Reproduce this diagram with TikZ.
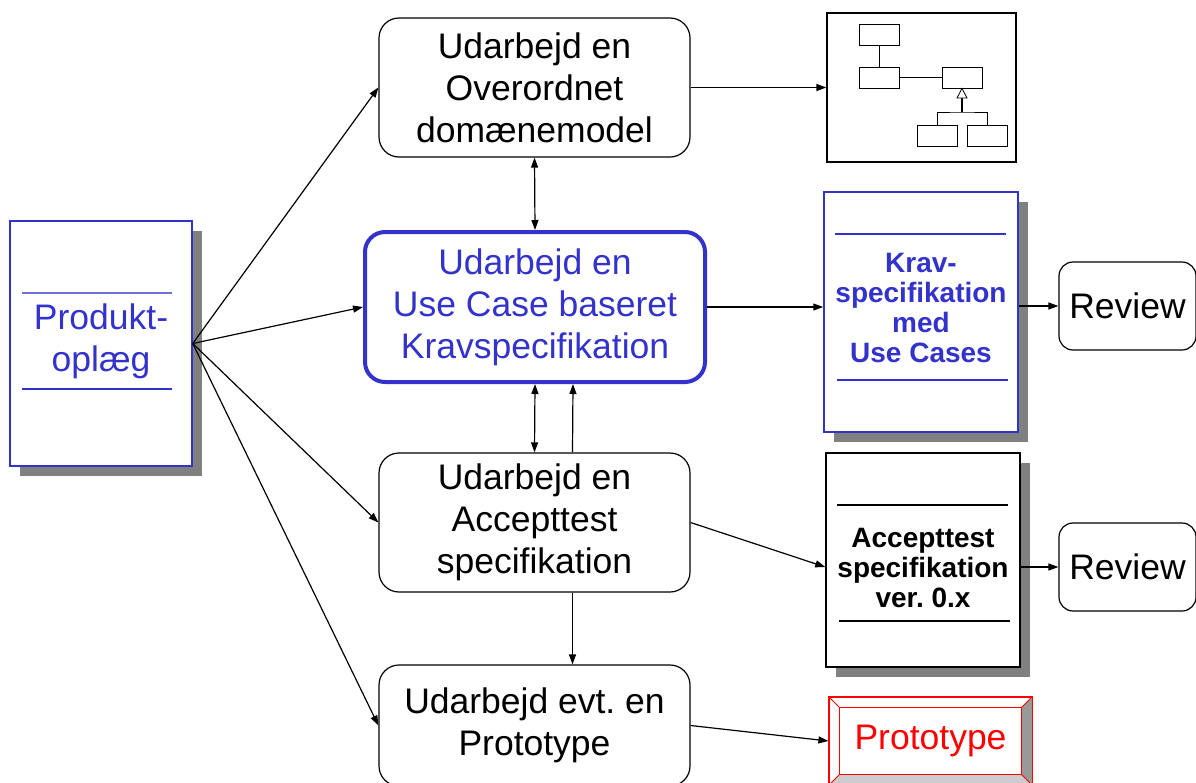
\documentclass[tikz,border=0pt]{standalone}
\usepackage{fontspec}
\setmainfont{Liberation Sans}
\usepackage{xcolor}
\usepackage{tikz}
\usetikzlibrary{shadows,arrows.meta,positioning}
\definecolor{docblue}{RGB}{51,51,204}
\definecolor{docshadow}{RGB}{128,128,128}
\frenchspacing

\begin{document}
\begin{tikzpicture}[x=1pt,y=-1pt,line width=1.2pt,
    >={Triangle[length=10pt,width=7pt]},
    bigtext/.style={font=\fontsize{35.5}{42}\selectfont, align=center},
    taskbox/.style={draw, rounded corners=20pt, minimum width=311pt, minimum height=139pt, bigtext},
    doc/.style={draw, fill=white, line width=1.5pt, general shadow={fill=docshadow, shadow xshift=10pt, shadow yshift=-10pt}},
    doctext/.style={font=\bfseries\fontsize{28}{30}\selectfont, align=center},
    review/.style={draw, rounded corners=14pt, minimum width=137pt, minimum height=88pt, bigtext},
    umlclass/.style={draw, line width=0.8pt, minimum width=40pt, minimum height=21pt, inner sep=0pt}]
    \useasboundingbox (0,0) rectangle (1196,782);

    % Produktoplaeg
    \node[doc, draw=docblue, minimum width=182pt, minimum height=245pt] (produkt) at (101,343.5) {};
    \node[bigtext, text=docblue] (produkttxt) at (101,341) {Produkt-\\oplæg};
    \draw[docblue!70] (22,293) -- (172,293);
    \draw[docblue] (22,389) -- (172,389);

    % activities
    \node[taskbox] (domain) at (534.5,87.5) {Udarbejd en\\Overordnet\\domænemodel};
    \node[taskbox, draw=docblue, text=docblue, line width=4pt, minimum width=340pt, minimum height=150pt] (usecase) at (535,307) {Udarbejd en\\Use Case baseret\\Kravspecifikation};
    \node[taskbox] (accept) at (534.5,522.5) {Udarbejd en\\Accepttest\\specifikation};
    \node[taskbox, minimum height=121pt] (proto) at (534.5,725.5) {Udarbejd evt. en\\Prototype};

    % domain model sketch
    \node[draw, minimum width=189pt, minimum height=149pt] (uml) at (921.5,87.5) {};
    \node[umlclass] (clA) at (879,34.5) {};
    \node[umlclass] (clB) at (879,77.5) {};
    \node[umlclass] (clC) at (962,77.5) {};
    \node[umlclass] (clD) at (937,136) {};
    \node[umlclass] (clE) at (987,136) {};
    \draw[line width=0.8pt] (clA) -- (clB);
    \draw[line width=0.8pt] (clB) -- (clC);
    \draw[line width=0.8pt] (clD.north) |- (962,112) -| (clE.north);
    \draw[line width=1.4pt] (962,112) -- (962,98);
    \draw[line width=0.8pt, fill=white] (clC.south) -- (967,98) -- (957,98) -- cycle;

    % Kravspecifikation
    \node[doc, draw=docblue, minimum width=194pt, minimum height=240pt] (krav) at (921,312) {};
    \node[doctext, text=docblue] (kravtxt) at (921,307.5) {Krav-\\specifikation\\med\\Use Cases};
    \draw[docblue] (835,234) -- (1006,234);
    \draw[docblue] (837,380) -- (1008,380);

    % Accepttest specifikation
    \node[doc, minimum width=194pt, minimum height=214pt] (accdoc) at (923,560) {};
    \node[doctext] (acctxt) at (923,568) {Accepttest\\specifikation\\ver. 0.x};
    \draw (837,505) -- (1008,505);
    \draw (839,621) -- (1010,621);

    % reviews
    \node[review] (review1) at (1127.5,306) {Review};
    \node[review] (review2) at (1127.5,567) {Review};

    % Prototype (bevelled)
    \node[draw=red, minimum width=203pt, minimum height=88pt, bigtext, text=red] (prototype) at (930.5,741) {Prototype};
    \fill[gray!80] (prototype.north east) -- (prototype.south east) -- ([xshift=-11pt,yshift=11pt]prototype.south east) -- ([xshift=-11pt,yshift=-11pt]prototype.north east) -- cycle;
    \fill[gray!40] (prototype.south west) -- (prototype.south east) -- ([xshift=-11pt,yshift=11pt]prototype.south east) -- ([xshift=11pt,yshift=11pt]prototype.south west) -- cycle;
    \draw[red] ([xshift=11pt,yshift=-11pt]prototype.north west) rectangle ([xshift=-11pt,yshift=11pt]prototype.south east);
    \draw[red, line width=0.8pt] (prototype.north west) -- ([xshift=11pt,yshift=-11pt]prototype.north west);
    \draw[red, line width=0.8pt] (prototype.north east) -- ([xshift=-11pt,yshift=-11pt]prototype.north east);
    \draw[red, line width=0.8pt] (prototype.south west) -- ([xshift=11pt,yshift=11pt]prototype.south west);
    \draw[red, line width=0.8pt] (prototype.south east) -- ([xshift=-11pt,yshift=11pt]prototype.south east);
    \draw[red] (prototype.north west) rectangle (prototype.south east);

    % connectors
    \draw[->] (produkt.east) -- (domain.west);
    \draw[->] (produkt.east) -- (usecase.west);
    \draw[->] (produkt.east) -- (accept.west);
    \draw[->] (produkt.east) -- (proto.west);
    \draw[->] (domain.east) -- (uml.west);
    \draw[<->] (domain.south) -- (usecase.north);
    \draw[<->] (usecase.south) -- (accept.north);
    \draw[->] ([xshift=38pt]accept.north) -- ([xshift=38pt]usecase.south);
    \draw[->] ([xshift=38pt]accept.south) -- ([xshift=38pt]proto.north);
    \draw[->] (usecase.east) -- (krav.west |- usecase.east);
    \draw[->] (krav.east |- review1.west) -- (review1.west);
    \draw[->] (accept.east) -- (accdoc.west |- review2.west);
    \draw[->] (accdoc.east |- review2.west) -- (review2.west);
    \draw[->] (proto.east) -- (prototype.west);
\end{tikzpicture}
\end{document}
